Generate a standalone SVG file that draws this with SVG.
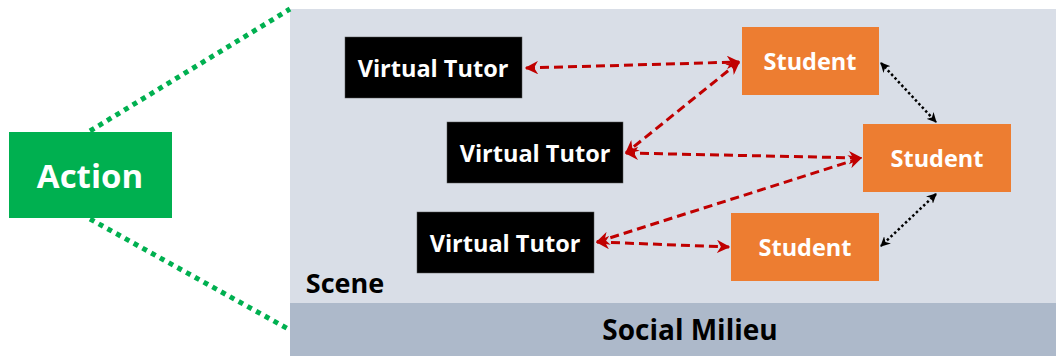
<svg xmlns="http://www.w3.org/2000/svg" width="1056" height="356" viewBox="0 0 1056 356">
<style>
.lbl{font-family:"Open Sans","Noto Sans","Liberation Sans",sans-serif;font-weight:bold;text-anchor:middle;dominant-baseline:central}
.w{fill:#fff;font-size:23.5px}
.red{fill:none;stroke:#C00000;stroke-width:3;stroke-dasharray:9 5;marker-start:url(#ar);marker-end:url(#ar)}
.blk{fill:none;stroke:#000;stroke-width:2.5;stroke-dasharray:2.5 2.5;marker-start:url(#ab);marker-end:url(#ab)}
.grn{fill:none;stroke:#00B050;stroke-width:5;stroke-dasharray:5 5}
</style>
<defs>
<marker id="ar" viewBox="0 0 10 10" refX="9" refY="5" markerWidth="4.5" markerHeight="4.5" orient="auto-start-reverse" markerUnits="strokeWidth">
<path d="M0,0 L10,5 L0,10 L3,5 Z" fill="#C00000"/>
</marker>
<marker id="ab" viewBox="0 0 10 10" refX="9" refY="5" markerWidth="4" markerHeight="4" orient="auto-start-reverse" markerUnits="strokeWidth">
<path d="M0,0 L10,5 L0,10 L3,5 Z" fill="#000"/>
</marker>
</defs>
<rect width="1056" height="356" fill="#fff"/>
<g id="scene">
<rect x="290" y="9" width="766" height="294" fill="#D9DEE7"/>
<text class="lbl" x="345" y="282" font-size="27" fill="#000">Scene</text>
</g>
<g id="milieu">
<rect x="290" y="303" width="766" height="53" fill="#ADB9CA"/>
<text class="lbl" x="690" y="329" font-size="28" fill="#000">Social Milieu</text>
</g>
<g id="connectors">
<line class="grn" x1="90" y1="131" x2="290" y2="9"/>
<line class="grn" x1="90" y1="219" x2="290" y2="330"/>
<line class="red" x1="526" y1="68" x2="739" y2="62"/>
<line class="red" x1="739" y1="62" x2="626" y2="153"/>
<line class="red" x1="626" y1="153" x2="861" y2="158"/>
<line class="red" x1="597" y1="242" x2="861" y2="158"/>
<line class="red" x1="597" y1="242" x2="729" y2="247"/>
<line class="blk" x1="881" y1="63" x2="936" y2="122"/>
<line class="blk" x1="936" y1="194" x2="881" y2="246"/>
</g>
<g id="action">
<rect x="9" y="132" width="163" height="86" fill="#00B050"/>
<text class="lbl" x="90" y="175" font-size="33" fill="#fff">Action</text>
</g>
<g id="vt1">
<rect x="345" y="37" width="177" height="61" fill="#000" stroke="#555" stroke-width="0.5"/>
<text class="lbl w" x="433" y="68">Virtual Tutor</text>
</g>
<g id="vt2">
<rect x="447" y="122" width="176" height="61" fill="#000" stroke="#555" stroke-width="0.5"/>
<text class="lbl w" x="535" y="153">Virtual Tutor</text>
</g>
<g id="vt3">
<rect x="417" y="212" width="177" height="61" fill="#000" stroke="#555" stroke-width="0.5"/>
<text class="lbl w" x="505" y="243">Virtual Tutor</text>
</g>
<g id="s1">
<rect x="742" y="27" width="137" height="68" fill="#ED7D31"/>
<text class="lbl w" x="810" y="61">Student</text>
</g>
<g id="s2">
<rect x="863" y="124" width="148" height="68" fill="#ED7D31"/>
<text class="lbl w" x="937" y="158">Student</text>
</g>
<g id="s3">
<rect x="731" y="213" width="148" height="68" fill="#ED7D31"/>
<text class="lbl w" x="805" y="247">Student</text>
</g>
</svg>
